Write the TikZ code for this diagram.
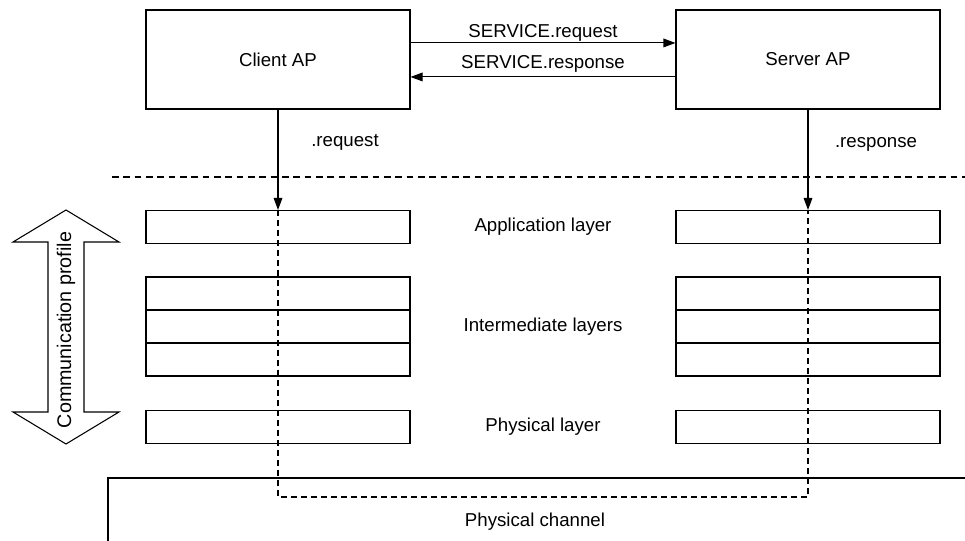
\documentclass[tikz,border=0pt]{standalone}
\usepackage{fontspec}
\setmainfont{Liberation Sans}
\usetikzlibrary{arrows.meta}
\begin{document}
\begin{tikzpicture}[x=0.75pt,y=-0.75pt,
  every node/.style={font=\fontsize{14pt}{16pt}\selectfont},
  apbox/.style={draw,line width=0.8pt,minimum width=198pt,minimum height=74.25pt,inner sep=0pt},
  layerbox/.style={draw,line width=0.8pt,minimum width=198pt,minimum height=24.75pt,inner sep=0pt},
  lbl/.style={inner sep=1pt},
  arr/.style={line width=0.8pt,-{Triangle[length=9pt,width=6.5pt]}},
  trace/.style={line width=0.8pt,dash pattern=on 4.5pt off 3pt},
  sep/.style={line width=0.8pt,dash pattern=on 5pt off 3.5pt}]
\clip (0,0) rectangle (965,541);
\fill[white] (0,0) rectangle (965,541);
% application processes
\node[apbox] (cap) at (278,59.5) {Client AP};
\node[apbox] (sap) at (808,59.5) {Server AP};
\draw[arr] ([yshift=12.4pt]cap.east) -- ([yshift=12.4pt]sap.west);
\draw[arr] ([yshift=-13.1pt]sap.west) -- ([yshift=-13.1pt]cap.east);
\node[lbl] (lreq) at (543,33) {SERVICE.request};
\node[lbl] (lresp) at (543,64) {SERVICE.response};
% separator
\coordinate (sepl) at (112,177);
\coordinate (sepr) at (965,177);
\draw[sep] (sepl) -- (sepr);
% layers client
\node[layerbox] (capp) at (278,227) {};
\node[layerbox] (cint1) at (278,293.5) {};
\node[layerbox] (cint2) at (278,326.5) {};
\node[layerbox] (cint3) at (278,359.5) {};
\node[layerbox] (cphy) at (278,427) {};
% layers server
\node[layerbox] (sapp) at (808,227) {};
\node[layerbox] (sint1) at (808,293.5) {};
\node[layerbox] (sint2) at (808,326.5) {};
\node[layerbox] (sint3) at (808,359.5) {};
\node[layerbox] (sphy) at (808,427) {};
% layer labels
\node[lbl] (tapp) at (543,227) {Application layer};
\node[lbl] (tint) at (543,326.5) {Intermediate layers};
\node[lbl] (tphy) at (543,427) {Physical layer};
% physical channel
\draw[line width=0.8pt] (108,560) -- (108,478) -- (990,478);
\node[lbl] (tch) at (535,522) {Physical channel};
% vertical arrows
\draw[arr] (cap.south) -- (capp.north);
\draw[arr] (sap.south) -- (sapp.north);
\node[lbl] (treq) at (345,142) {.request};
\node[lbl] (tresp) at (876,144) {.response};
% dashed trace
\coordinate (dl) at (278,497);
\coordinate (dr) at (808,497);
\draw[trace] (capp.north) -- (dl) -- (dr) -- (sapp.north);
% communication profile double arrow
\draw[line width=0.8pt,fill=white] (66,210) -- (119,242) -- (84,242) -- (84,412) -- (119,412) -- (66,444)
  -- (13,412) -- (48,412) -- (48,242) -- (13,242) -- cycle;
\node[lbl,rotate=90,font=\fontsize{14.8pt}{16pt}\selectfont] (tprof) at (66,330) {Communication profile};
\end{tikzpicture}
\end{document}
